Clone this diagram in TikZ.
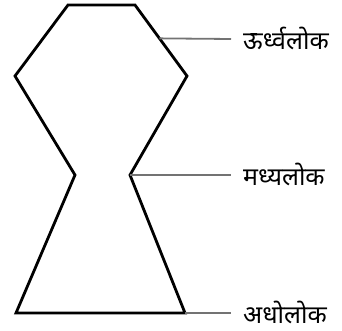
\documentclass[tikz,border=0pt]{standalone}
\usepackage{fontspec}
\usetikzlibrary{calc}
\newfontfamily\devfont[Script=Devanagari]{Noto Sans}
\begin{document}
\begin{tikzpicture}[x=1pt,y=-1pt,
  outline/.style={draw=black,line width=2.8pt,line join=miter},
  leader/.style={draw=black!55,line width=1.8pt},
  lbl/.style={anchor=west,inner sep=0pt,font=\devfont\bfseries\fontsize{25}{28}\selectfont}]
\useasboundingbox (0,0) rectangle (342,331);
\coordinate (tl) at (68,5);
\coordinate (tr) at (135,5);
\coordinate (ur) at (187,76);
\coordinate (wr) at (130,175);
\coordinate (br) at (185,313);
\coordinate (bl) at (16,313);
\coordinate (wl) at (75,175);
\coordinate (ul) at (15,76);
\draw[outline] (tl) -- (tr) -- (ur) -- (wr) -- (br) -- (bl) -- (wl) -- (ul) -- cycle;
\coordinate (up) at ($(tr)!0.47!(ur)$);
\node[lbl] (t1) at (243,38) {ऊर्ध्वलोक};
\node[lbl] (t2) at (243,174) {मध्यलोक};
\node[lbl] (t3) at (243,312) {अधोलोक};
\coordinate (e1) at (231,39);
\coordinate (e2) at (231,175);
\coordinate (e3) at (231,313);
\draw[leader] (up) -- (e1);
\draw[leader] (wr) -- (e2);
\draw[leader] (br) -- (e3);
\end{tikzpicture}
\end{document}
